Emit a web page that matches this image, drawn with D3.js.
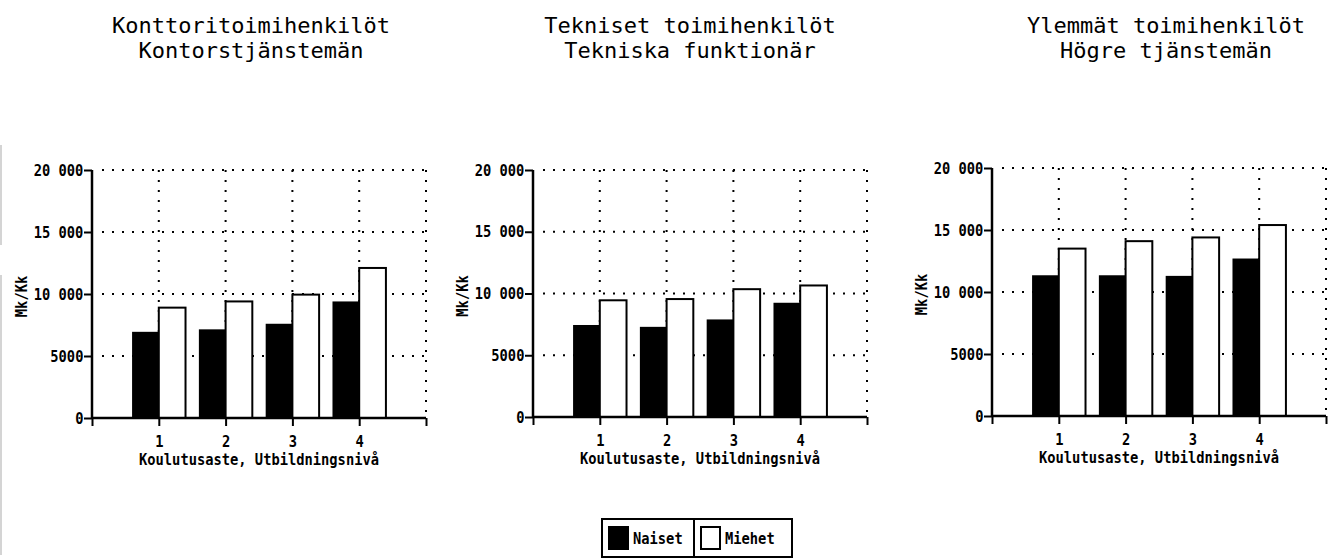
<!DOCTYPE html>
<html>
<head>
<meta charset="utf-8">
<script src="https://cdn.jsdelivr.net/npm/d3@7"></script>
<style>
  body { margin: 0; background: #fff; }
  text { font-family: "DejaVu Sans Mono", monospace; fill: #000; }
  .lab { font-size: 16px; font-weight: bold; }
</style>
</head>
<body>
<svg id="chart"></svg>
<script>
// data
let levels = [1, 2, 3, 4];
let titlesFi = ["Konttoritoimihenkilöt", "Tekniset toimihenkilöt", "Ylemmät toimihenkilöt"];
let titlesSv = ["Kontorstjänstemän", "Tekniska funktionär", "Högre tjänstemän"];
let naiset = [
    [6950, 7150, 7600, 9400],
    [7450, 7300, 7900, 9250],
    [11350, 11350, 11300, 12700]
];
let miehet = [
    [8900, 9400, 9950, 12100],
    [9450, 9550, 10350, 10650],
    [13500, 14100, 14400, 15400]
];
let yTicks = [0, 5000, 10000, 15000, 20000];
let seriesNames = ["Naiset", "Miehet"];

let width = 1340, height = 560;
let svg = d3.select("#chart").attr("width", width).attr("height", height);

// panel layout (left of axis, top, bottom, title centre)
let panelLeft = [92, 533, 992],
    panelTop = [170, 170, 168],
    panelBottom = [418, 417, 416],
    titleCx = [251, 690, 1166],
    panelW = 334,
    squeeze = "scale(0.86,1)";   // narrow bold lettering like the old plotter font

function fmt(v) {
    if (v >= 10000) return Math.floor(v / 1000) + " " + d3.format("03")(v % 1000);
    return String(v);
}

// narrow label placed at x,y
function label(parent, x, y, txt, anchor, rot) {
    let t = parent.append("g")
        .attr("transform", "translate(" + x + "," + y + ")" + (rot ? " rotate(" + rot + ")" : ""))
        .append("text").attr("class", "lab").attr("transform", squeeze)
        .attr("text-anchor", anchor || "start").text(txt);
    return t;
}

// faint scan edge on the left
svg.append("line").attr("x1", 1).attr("x2", 1).attr("y1", 145).attr("y2", 245)
    .attr("stroke", "#d4d4d4").attr("stroke-width", 2);
svg.append("line").attr("x1", 1).attr("x2", 1).attr("y1", 275).attr("y2", 555)
    .attr("stroke", "#d4d4d4").attr("stroke-width", 2);

titlesFi.forEach((t, p) => {
    let x = d3.scaleLinear().domain([0, 5]).range([panelLeft[p], panelLeft[p] + panelW]);
    let y = d3.scaleLinear().domain([0, 20000]).range([panelBottom[p], panelTop[p]]);
    let g = svg.append("g");

    //// titles
    g.append("text").attr("x", titleCx[p]).attr("y", 33)
        .attr("text-anchor", "middle").style("font-size", "22px").text(t);
    g.append("text").attr("x", titleCx[p]).attr("y", 58)
        .attr("text-anchor", "middle").style("font-size", "22px").text(titlesSv[p]);

    //// dotted grid
    g.selectAll(".hgrid").data(yTicks.filter(d => d > 0)).enter().append("line")
        .attr("x1", x(0) + 10).attr("x2", x(5))
        .attr("y1", d => y(d)).attr("y2", d => y(d))
        .attr("stroke", "#000").attr("stroke-width", 2).attr("stroke-dasharray", "2,8");
    g.selectAll(".vgrid").data([1, 2, 3, 4, 5]).enter().append("line")
        .attr("x1", d => x(d)).attr("x2", d => x(d))
        .attr("y1", y(20000)).attr("y2", y(0) - 4)
        .attr("stroke", "#000").attr("stroke-width", 2).attr("stroke-dasharray", "2,8");

    //// bars
    g.selectAll(".bn").data(naiset[p]).enter().append("rect")
        .attr("x", (d, i) => x(levels[i] - 0.4))
        .attr("width", (d, i) => x(levels[i]) - x(levels[i] - 0.4))
        .attr("y", d => y(d))
        .attr("height", d => y(0) - y(d))
        .attr("fill", "#000");
    g.selectAll(".bm").data(miehet[p]).enter().append("rect")
        .attr("x", (d, i) => x(levels[i]))
        .attr("width", (d, i) => x(levels[i] + 0.4) - x(levels[i]))
        .attr("y", d => y(d))
        .attr("height", d => y(0) - y(d))
        .attr("fill", "#fff").attr("stroke", "#000").attr("stroke-width", 2);

    //// axes
    let yAxis = d3.axisLeft(y).tickValues(yTicks).tickFormat(fmt).tickSize(8).tickPadding(2);
    let ya = g.append("g").attr("transform", "translate(" + x(0) + ",0)").call(yAxis);
    let xAxis = d3.axisBottom(x).tickValues([0, 1, 2, 3, 4, 5])
        .tickFormat(d => levels.includes(d) ? d : "").tickSize(8).tickPadding(10);
    let xa = g.append("g").attr("transform", "translate(0," + y(0) + ")").call(xAxis);
    [ya, xa].forEach(a => {
        a.select(".domain").remove();
        a.selectAll(".tick line").attr("stroke", "#000").attr("stroke-width", 2);
        a.selectAll("text").attr("class", "lab").attr("font-family", null)
            .attr("font-size", null).attr("transform", squeeze);
    });
    g.append("line").attr("x1", x(0)).attr("x2", x(0)).attr("y1", y(0)).attr("y2", y(20000))
        .attr("stroke", "#000").attr("stroke-width", 2.5);
    g.append("line").attr("x1", x(0)).attr("x2", x(5)).attr("y1", y(0)).attr("y2", y(0))
        .attr("stroke", "#000").attr("stroke-width", 2.5);

    //// axis titles
    label(g, (x(0) + x(5)) / 2, y(0) + 47, "Koulutusaste, Utbildningsnivå", "middle");
    label(g, x(0) - 65, y(9800), "Mk/Kk", "middle", -90);
});

//// legend
let legend = svg.append("g").attr("transform", "translate(602,519)");
legend.append("rect").attr("width", 190).attr("height", 38)
    .attr("fill", "#fff").attr("stroke", "#000").attr("stroke-width", 2);
legend.append("line").attr("x1", 92).attr("x2", 92).attr("y1", 0).attr("y2", 38)
    .attr("stroke", "#000").attr("stroke-width", 2);
seriesNames.forEach((s, i) => {
    let cell = legend.append("g").attr("transform", "translate(" + (i * 92) + ",0)");
    cell.append("rect").attr("x", 7).attr("y", 8).attr("width", 19).attr("height", 22)
        .attr("fill", i === 0 ? "#000" : "#fff").attr("stroke", "#000").attr("stroke-width", 2);
    label(cell, 31, 25, s);
});
</script>
</body>
</html>
